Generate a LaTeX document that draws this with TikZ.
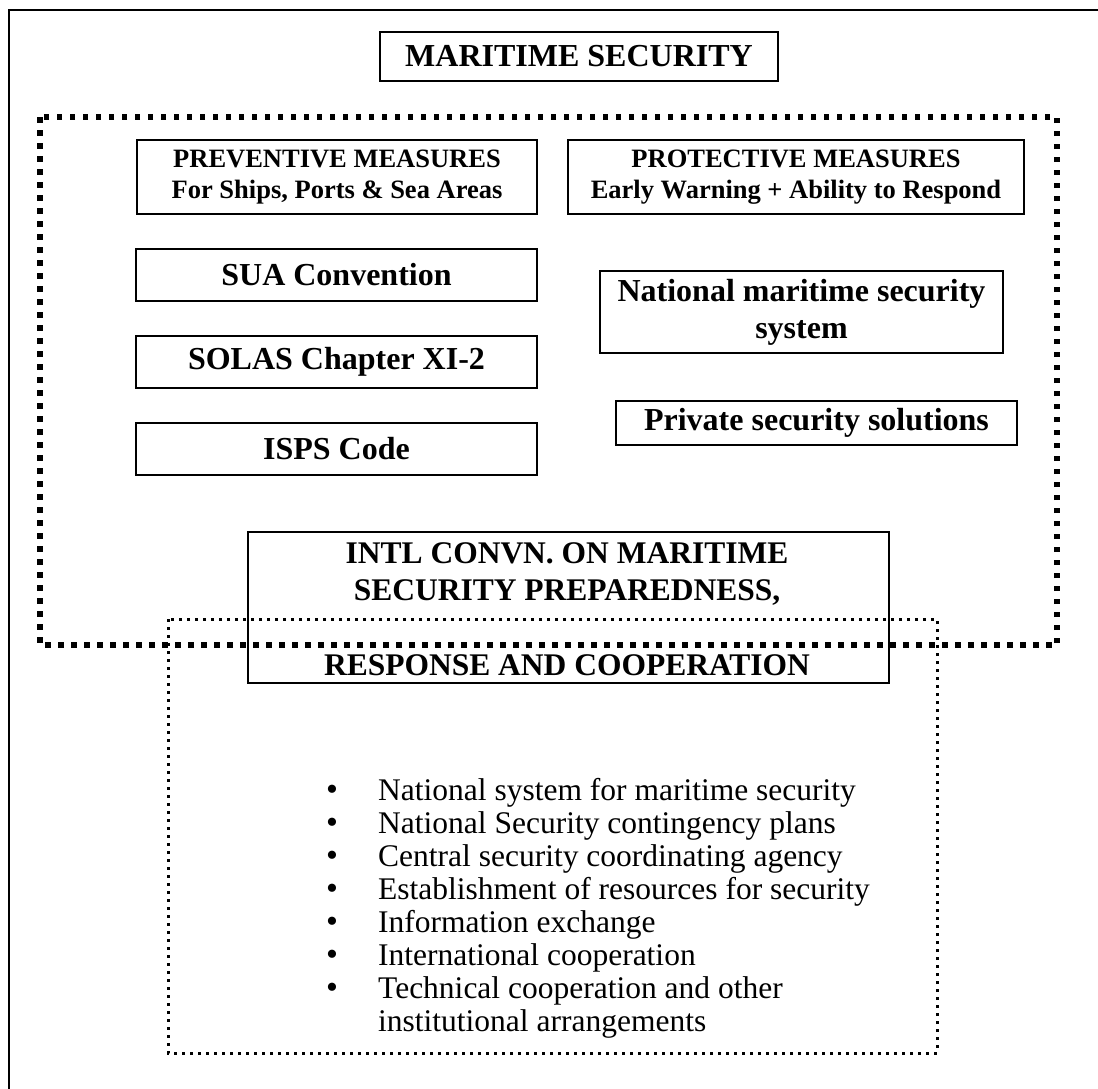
\documentclass[tikz,border=0pt]{standalone}
\usepackage{fontspec}
\setmainfont{Liberation Serif}
\begin{document}
\begin{tikzpicture}[x=1pt,y=-1pt,
  frame/.style={draw, line width=2pt, inner sep=0pt, outer sep=0pt, anchor=north west, align=center},
  big/.style={font=\fontsize{32}{37}\selectfont\bfseries},
  small/.style={font=\fontsize{26.5}{30.5}\selectfont\bfseries},
  intltext/.style={anchor=base, inner sep=0pt, font=\fontsize{31.5}{37}\selectfont\bfseries},
  thickdots/.style={line width=5.5pt, dash pattern=on 5.5pt off 7.5pt},
  thindots/.style={line width=3pt, dash pattern=on 3pt off 5pt},
  item/.style={anchor=base west, inner sep=0pt, font=\fontsize{31.5}{33}\selectfont},
  bul/.style={anchor=base, inner sep=0pt, font=\fontsize{34}{33}\selectfont}]

\clip (0,0) rectangle (1098,1088);
\fill[white] (0,0) rectangle (1098,1088);
\draw[line width=2pt] (9,1120) -- (9,10) -- (1120,10);

\node[frame, big, minimum width=398pt, minimum height=49pt] (title) at (380,32) {MARITIME SECURITY};

\draw[thickdots] (40,117) rectangle (1057,645);

\node[frame, small, minimum width=400pt, minimum height=74pt] (prev) at (137,140) {PREVENTIVE MEASURES\\For Ships, Ports \& Sea Areas};
\node[frame, small, minimum width=456pt, minimum height=74pt] (prot) at (568,140) {PROTECTIVE MEASURES\\Early Warning + Ability to Respond};

\node[frame, big, minimum width=401pt, minimum height=52pt] (sua) at (136,249) {SUA Convention};
\node[frame, big, minimum width=401pt, minimum height=52pt] (solas) at (136,336) {SOLAS Chapter XI-2};
\node[frame, big, minimum width=401pt, minimum height=52pt] (isps) at (136,423) {ISPS Code};

\node[frame, big, minimum width=403pt, minimum height=82pt] (nat) at (600,271) {National maritime security\\system};
\node[frame, big, minimum width=401pt, minimum height=44pt] (priv) at (616,401) {Private security solutions};

\draw[thindots] (168,619) rectangle (937,1053);

\node[frame, minimum width=641pt, minimum height=151pt] (intl) at (248,532) {};
\node[intltext] (intl1) at (567,563) {INTL CONVN. ON MARITIME};
\node[intltext] (intl2) at (567,600) {SECURITY PREPAREDNESS,};
\node[intltext] (intl3) at (567,675) {RESPONSE AND COOPERATION};

\foreach \t [count=\i from 0] in {National system for maritime security,
  National Security contingency plans,
  Central security coordinating agency,
  Establishment of resources for security,
  Information exchange,
  International cooperation,
  Technical cooperation and other}{
  \node[bul] (b\i) at (332,{800.5+33*\i}) {•};
  \node[item] (l\i) at (378,{800+33*\i}) {\t};
}
\node[item] (l7) at (378,{800+33*7}) {institutional arrangements};
\end{tikzpicture}
\end{document}
